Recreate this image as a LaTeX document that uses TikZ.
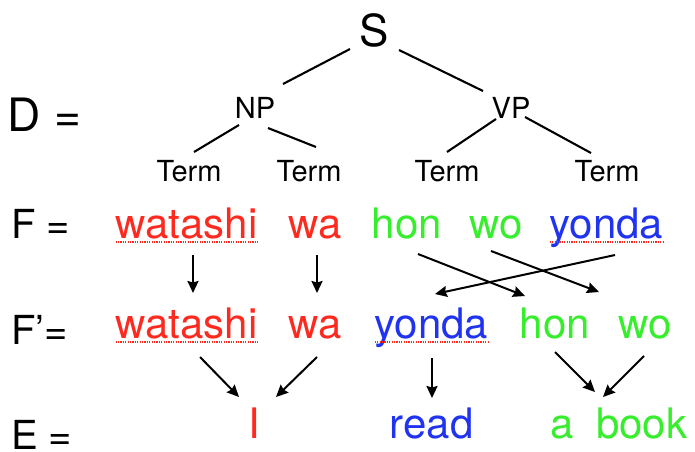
\documentclass[tikz,border=0pt]{standalone}
\usepackage{fontspec}
\setmainfont{TeX Gyre Heros}
\usetikzlibrary{arrows.meta,calc}
\definecolor{jred}{RGB}{255,42,31}
\definecolor{jgreen}{RGB}{55,238,45}
\definecolor{jblue}{RGB}{32,52,240}
\tikzset{
  big/.style={font=\fontsize{44}{52}\selectfont},
  cat/.style={font=\fontsize{29}{34}\selectfont},
  lab/.style={font=\fontsize{40}{48}\selectfont},
  word/.style={font=\fontsize{42}{50}\selectfont},
  every node/.style={inner sep=0pt, outer sep=0pt, anchor=base},
  tree/.style={line width=2.1pt},
  arr/.style={line width=2pt, -{Stealth[length=12pt,width=11pt,inset=1.5pt]}},
  dots/.style={jred, line width=1.3pt, dash pattern=on 1.2pt off 1.2pt},
}
\begin{document}
\begin{tikzpicture}[x=1pt,y=-1pt]
\useasboundingbox (0,0) rectangle (695,451);
% tree
\node[big] (S) at (374,46) {S};
\node[cat] (NP) at (255,118) {NP};
\node[cat] (VP) at (511,118) {VP};
\node[cat] (T1) at (189,181) {Term};
\node[cat] (T2) at (309,181) {Term};
\node[cat] (T3) at (447,181) {Term};
\node[cat] (T4) at (607,181) {Term};
\draw[tree] ($(S.base)+(-24,3)$) -- ($(NP.base)+(28,-34)$);
\draw[tree] ($(S.base)+(25,4)$) -- ($(VP.base)+(-28,-27)$);
\draw[tree] ($(NP.base)+(-16,7)$) -- ($(T1.base)+(5,-29)$);
\draw[tree] ($(NP.base)+(13,10)$) -- ($(T2.base)+(7,-34)$);
\draw[tree] ($(VP.base)+(-15,1)$) -- ($(T3.base)+(0,-29)$);
\draw[tree] ($(VP.base)+(14,-1)$) -- ($(T4.base)+(-16,-28)$);
% labels
\node[font=\fontsize{46}{54}\selectfont, anchor=base west] (LD) at (8,131) {D =};
\node[lab, anchor=base west] (LF) at (11,238) {F =};
\node[lab, anchor=base west] (LFp) at (11,344) {F’=};
\node[lab, anchor=base west] (LE) at (11,449) {E =};
% F row
\node[word, text=jred] (fw1) at (186.5,238) {watashi};
\node[word, text=jred] (fwa) at (315.5,238) {wa};
\node[word, text=jgreen] (fhon) at (407,238) {hon};
\node[word, text=jgreen] (fwo) at (496.5,238) {wo};
\node[word, text=jblue] (fyonda) at (606.5,238) {yonda};
% F' row
\node[word, text=jred] (pw1) at (186.5,338) {watashi};
\node[word, text=jred] (pwa) at (315.5,338) {wa};
\node[word, text=jblue] (pyonda) at (431.5,338) {yonda};
\node[word, text=jgreen] (phon) at (555,338) {hon};
\node[word, text=jgreen] (pwo) at (645,338) {wo};
% E row
\node[word, text=jred] (eI) at (254.5,438) {I};
\node[word, text=jblue] (eread) at (431.5,438) {read};
\node[word, text=jgreen] (ebook) at (619,438) {a\hspace{22pt}book};
% underlines
\draw[dots] ($(fw1.base west)+(0,4)$) -- ($(fw1.base east)+(0,4)$);
\draw[dots] ($(fyonda.base west)+(0,4)$) -- ($(fyonda.base east)+(0,4)$);
\draw[dots] ($(pw1.base west)+(0,4)$) -- ($(pw1.base east)+(0,4)$);
\draw[dots] ($(pyonda.base west)+(0,4)$) -- ($(pyonda.base east)+(0,4)$);
% arrows F -> F'
\draw[arr] ($(fw1.base)+(6.5,17)$) -- ($(pw1.base)+(6.5,-45)$);
\draw[arr] ($(fwa.base)+(1.5,17)$) -- ($(pwa.base)+(1.5,-45)$);
\draw[arr] ($(fhon.base)+(11,16)$) -- ($(phon.base)+(-30,-42)$);
\draw[arr] ($(fwo.base)+(-5.5,13)$) -- ($(pwo.base)+(-46,-46)$);
\draw[arr] ($(fyonda.base)+(8.5,17)$) -- ($(pyonda.base)+(3.5,-44)$);
% arrows F' -> E
\draw[arr] ($(pw1.base)+(13.5,19)$) -- ($(eI.base)+(-15.5,-41)$);
\draw[arr] ($(pwa.base)+(1.5,19)$) -- ($(eI.base)+(21.5,-41)$);
\draw[arr] ($(pyonda.base)+(0.5,20)$) -- ($(eread.base)+(0.5,-40)$);
\draw[arr] ($(phon.base)+(0,14)$) -- ($(ebook.base)+(-24,-46)$);
\draw[arr] ($(pwo.base)+(-1,18)$) -- ($(ebook.base)+(-16,-41)$);
\end{tikzpicture}
\end{document}
